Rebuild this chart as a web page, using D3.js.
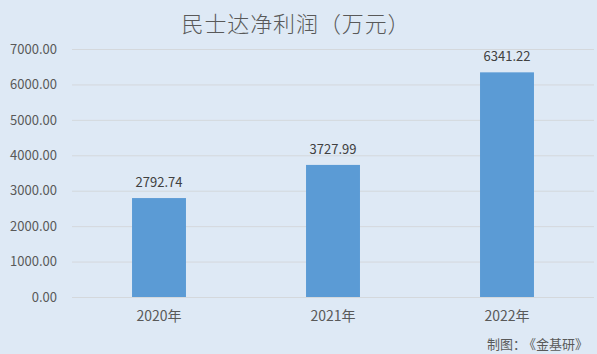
<!DOCTYPE html>
<html><head><meta charset="utf-8">
<script src="https://cdn.jsdelivr.net/npm/d3@7"></script>
<style>
html,body{margin:0;padding:0;background:#dee9f5;}
svg{display:block;}
text{font-family:"Noto Sans CJK SC","Microsoft YaHei",sans-serif;text-spacing-trim:space-all;}
</style></head>
<body>
<svg id="chart" width="597" height="354"></svg>
<script>
const categories = ["2020年", "2021年", "2022年"];
const values = [2792.74, 3727.99, 6341.22];
const yTicks = [0, 1000, 2000, 3000, 4000, 5000, 6000, 7000];
const title = "民士达净利润（万元）";
const sourceParts = ["制图：", "《金基研》"];

const W = 597, H = 354;
const svg = d3.select("#chart");
svg.append("rect").attr("width", W).attr("height", H).attr("fill", "#dee9f5");

const x = d3.scaleBand().domain(categories).range([72, 594]).paddingInner(0.69).paddingOuter(0.345);
const y = d3.scaleLinear().domain([0, 7000]).range([297, 49]);

// gridlines
svg.append("g").selectAll("line").data(yTicks).join("line")
  .attr("x1", 72).attr("x2", 594)
  .attr("y1", d => y(d) + 0.5).attr("y2", d => y(d) + 0.5)
  .attr("stroke", "#d4d8dc").attr("stroke-width", 1);

// y axis labels
const yAxis = d3.axisLeft(y).tickValues(yTicks).tickFormat(d3.format(".2f")).tickSize(0).tickPadding(0);
const gy = svg.append("g").attr("transform", "translate(57,0)").call(yAxis);
gy.select(".domain").remove();
gy.selectAll("text").attr("fill", "#595959").attr("font-size", "13px")
  .style("font-family", '"Noto Sans CJK SC",sans-serif');

// bars
svg.append("g").selectAll("rect").data(values).join("rect")
  .attr("x", (d, i) => x(categories[i]))
  .attr("width", x.bandwidth())
  .attr("y", d => y(d))
  .attr("height", d => y(0) - y(d))
  .attr("fill", "#5b9bd5");

// value labels
svg.append("g").selectAll("text").data(values).join("text")
  .attr("x", (d, i) => x(categories[i]) + x.bandwidth() / 2)
  .attr("y", d => y(d) - 11)
  .attr("text-anchor", "middle")
  .attr("fill", "#404040").attr("font-size", "13px")
  .text(d => d3.format(".2f")(d));

// x axis labels
const xAxis = d3.axisBottom(x).tickSize(0).tickPadding(0);
const gx = svg.append("g").attr("transform", "translate(0,311)").call(xAxis);
gx.select(".domain").remove();
gx.selectAll("text").attr("fill", "#595959").attr("font-size", "14px")
  .style("font-family", '"Noto Sans CJK SC",sans-serif');

// title
svg.append("text").attr("x", 296).attr("y", 32).attr("text-anchor", "middle")
  .attr("fill", "#595959").attr("font-size", "22px").attr("font-weight", 300)
  .attr("letter-spacing", "0.9px").text(title);

// source
svg.append("text").attr("x", 487).attr("y", 349)
  .attr("fill", "#595959").attr("font-size", "13px").text(sourceParts[0]);
svg.append("text").attr("x", 523).attr("y", 349)
  .attr("fill", "#595959").attr("font-size", "13px").text(sourceParts[1]);
</script>
</body></html>
